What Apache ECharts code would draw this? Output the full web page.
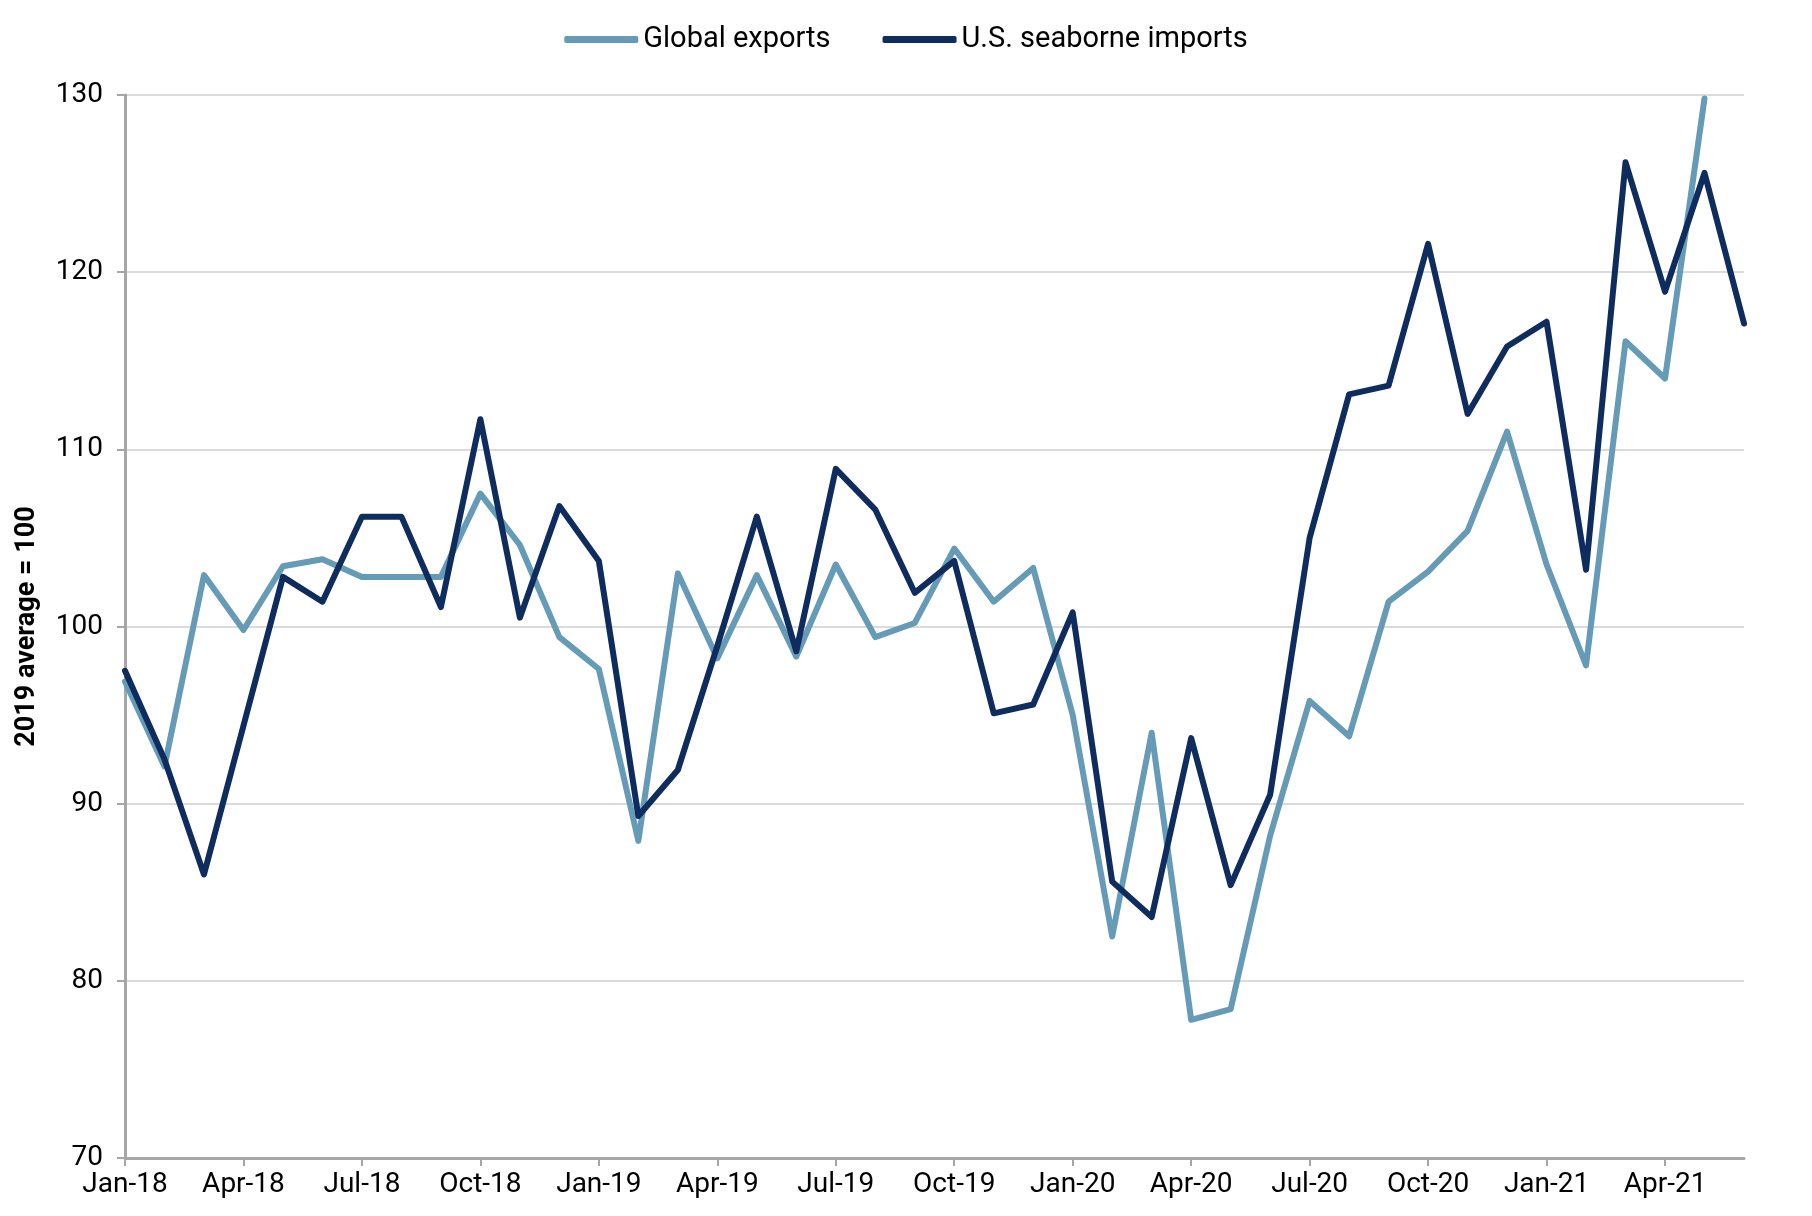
<!DOCTYPE html>
<html>
<head>
<meta charset="utf-8">
<script src="https://cdn.jsdelivr.net/npm/echarts@6/dist/echarts.min.js"></script>
<style>
html,body{margin:0;padding:0;background:#fff;}
#chart{width:1812px;height:1216px;}
</style>
</head>
<body>
<div id="chart"></div>
<script>
const months = [
  "Jan-18","Feb-18","Mar-18","Apr-18","May-18","Jun-18","Jul-18","Aug-18","Sep-18","Oct-18","Nov-18","Dec-18",
  "Jan-19","Feb-19","Mar-19","Apr-19","May-19","Jun-19","Jul-19","Aug-19","Sep-19","Oct-19","Nov-19","Dec-19",
  "Jan-20","Feb-20","Mar-20","Apr-20","May-20","Jun-20","Jul-20","Aug-20","Sep-20","Oct-20","Nov-20","Dec-20",
  "Jan-21","Feb-21","Mar-21","Apr-21","May-21","Jun-21"
];
const globalExports = [
  96.9, 92.1, 102.9, 99.8, 103.4, 103.8, 102.8, 102.8, 102.8, 107.5, 104.6, 99.4,
  97.6, 87.9, 103.0, 98.2, 102.9, 98.3, 103.5, 99.4, 100.2, 104.4, 101.4, 103.3,
  95.0, 82.5, 94.0, 77.8, 78.4, 88.2, 95.8, 93.8, 101.4, 103.1, 105.4, 111.0,
  103.5, 97.8, 116.1, 114.0, 129.8, null
];
const usImports = [
  97.5, 92.5, 86.0, 94.4, 102.8, 101.4, 106.2, 106.2, 101.1, 111.7, 100.5, 106.8,
  103.7, 89.3, 91.9, 98.9, 106.2, 98.6, 108.9, 106.6, 101.9, 103.7, 95.1, 95.6,
  100.8, 85.6, 83.6, 93.7, 85.4, 90.5, 105.0, 113.1, 113.6, 121.6, 112.0, 115.8,
  117.2, 103.2, 126.2, 118.9, 125.6, 117.1
];
const seriesNames = ["Global exports", "U.S. seaborne imports"];
const yAxisTitle = "2019 average = 100";

const FONT = "Roboto, 'Liberation Sans', sans-serif";
const chart = echarts.init(document.getElementById('chart'), null, {renderer: 'canvas'});
chart.setOption({
  animation: false,
  backgroundColor: '#ffffff',
  legend: {
    top: 20,
    left: 'center',
    itemWidth: 74,
    itemHeight: 7,
    itemGap: 52,
    icon: 'roundRect',
    textStyle: {fontFamily: FONT, fontSize: 29, color: '#000'},
    data: seriesNames
  },
  grid: {left: 125, right: 68, top: 95, bottom: 58, containLabel: false},
  xAxis: {
    type: 'category',
    data: months,
    boundaryGap: false,
    axisLine: {show: true, lineStyle: {color: '#a6a6a6', width: 3}},
    axisTick: {show: true, interval: 2, length: 8, lineStyle: {color: '#a6a6a6', width: 2}},
    axisLabel: {interval: 2, margin: 13, color: '#000', fontFamily: FONT, fontSize: 28},
    splitLine: {show: false}
  },
  yAxis: {
    type: 'value',
    min: 70, max: 130, interval: 10,
    name: yAxisTitle,
    nameLocation: 'middle',
    nameRotate: 90,
    nameGap: 84,
    nameTextStyle: {fontFamily: FONT, fontSize: 27, fontWeight: 'bold', color: '#000'},
    axisLine: {show: true, lineStyle: {color: '#a6a6a6', width: 3}},
    axisTick: {show: true, length: 8, lineStyle: {color: '#a6a6a6', width: 2}},
    axisLabel: {margin: 22, color: '#000', fontFamily: FONT, fontSize: 28},
    splitLine: {show: true, lineStyle: {color: '#cfcfcf', width: 1.5}}
  },
  series: [
    {
      name: seriesNames[0], type: 'line', data: globalExports,
      showSymbol: false, symbol: 'none',
      itemStyle: {color: '#659bb7'},
      lineStyle: {color: '#659bb7', width: 6, join: 'round', cap: 'round'}
    },
    {
      name: seriesNames[1], type: 'line', data: usImports,
      showSymbol: false, symbol: 'none',
      itemStyle: {color: '#0e2c5d'},
      lineStyle: {color: '#0e2c5d', width: 6, join: 'round', cap: 'round'}
    }
  ]
});
</script>
</body>
</html>
